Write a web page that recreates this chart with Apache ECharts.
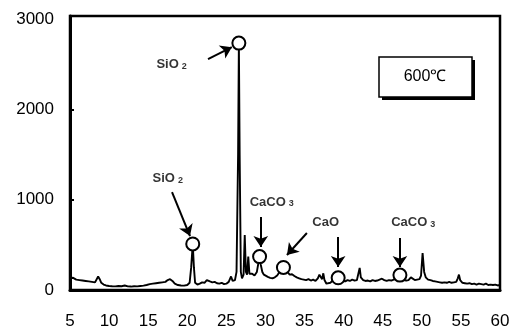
<!DOCTYPE html>
<html><head><meta charset="utf-8">
<script src="https://cdn.jsdelivr.net/npm/echarts@6/dist/echarts.min.js"></script>
<style>html,body{margin:0;padding:0;background:#fff}#c{width:514px;height:332px}</style>
</head><body><div id="c"></div>
<script>
// XRD pattern, 600 ℃ : [2θ, intensity]
const pattern = [
[5.0,130],[5.2,125],[5.4,135],[5.6,120],[5.8,115],[6.0,118],[6.2,110],[6.4,112],[6.6,105],[6.8,108],
[7.0,100],[7.2,98],[7.4,95],[7.6,92],[7.8,90],[8.0,88],[8.2,85],[8.4,95],[8.6,150],[8.7,160],[8.8,120],
[9.0,80],[9.3,60],[9.6,50],[10.0,45],[10.4,42],[10.8,40],[11.2,45],[11.6,42],[12.0,50],[12.4,40],
[12.8,38],[13.2,42],[13.6,40],[14.0,45],[14.4,48],[14.8,55],[15.2,65],[15.6,70],[16.0,75],[16.4,80],
[16.8,85],[17.2,90],[17.5,110],[17.8,120],[18.1,100],[18.4,70],[18.8,55],[19.2,50],[19.6,48],[20.0,55],
[20.3,80],[20.5,250],[20.7,510],[20.85,250],[21.0,80],[21.3,60],[21.6,70],[21.9,85],[22.2,80],[22.5,110],
[22.7,130],[22.9,95],[23.2,85],[23.5,90],[23.8,75],[24.1,70],[24.4,80],[24.7,65],[25.0,70],[25.3,90],
[25.6,150],[25.8,100],[26.1,110],[26.3,200],[26.5,1500],[26.6,2735],[26.7,1500],[26.85,200],[27.0,130],
[27.2,170],[27.35,610],[27.5,200],[27.65,170],[27.8,370],[27.95,180],[28.1,160],[28.3,180],[28.6,160],
[28.9,200],[29.1,300],[29.25,370],[29.4,280],[29.6,200],[29.8,170],[30.0,150],[30.3,145],[30.6,135],
[30.9,130],[31.2,140],[31.5,160],[31.8,200],[32.1,240],[32.3,250],[32.5,235],[32.8,200],[33.1,170],
[33.4,175],[33.7,155],[34.0,140],[34.3,130],[34.6,120],[34.9,115],[35.2,110],[35.5,120],[35.8,105],
[36.1,115],[36.4,100],[36.7,130],[36.9,170],[37.1,190],[37.25,120],[37.4,185],[37.55,110],[37.8,70],
[38.0,60],[38.3,80],[38.7,110],[39.0,125],[39.3,135],[39.6,120],[39.9,100],[40.2,95],[40.5,110],
[40.8,100],[41.1,115],[41.4,105],[41.7,110],[41.9,130],[42.05,245],[42.2,140],[42.5,110],[42.8,100],
[43.1,105],[43.4,95],[43.7,110],[44.0,100],[44.3,105],[44.6,115],[44.9,125],[45.2,110],[45.5,100],
[45.8,110],[46.1,105],[46.4,115],[46.7,130],[47.0,160],[47.2,165],[47.4,140],[47.7,110],[48.0,105],
[48.3,110],[48.6,140],[48.8,120],[49.1,110],[49.4,115],[49.7,120],[49.9,160],[50.1,410],[50.3,200],
[50.5,140],[50.8,115],[51.1,110],[51.4,100],[51.7,95],[52.0,90],[52.3,85],[52.6,80],[52.9,85],
[53.2,80],[53.5,90],[53.8,80],[54.1,85],[54.4,90],[54.6,130],[54.75,170],[54.9,110],[55.2,80],
[55.5,75],[55.8,70],[56.1,75],[56.4,65],[56.7,70],[57.0,60],[57.3,70],[57.6,65],[57.9,60],[58.2,70],
[58.5,55],[58.8,60],[59.1,55],[59.4,60],[59.7,50],[60.0,55]
];
// marked peaks (circles)
const markedPeaks = [[26.6,2735],[20.7,510],[29.25,370],[32.3,250],[39.3,135],[47.2,165]];
// arrows: [from2θ, fromI, to2θ, toI]
const arrows = [
[22.65,2558,25.7,2690],
[18.05,1085,20.35,598],
[29.4,809,29.4,476],
[35.3,631,32.75,388],
[39.3,587,39.3,255],
[47.2,576,47.2,255]
];
// labels: [2θ, I, name, subscript]
const labels = [
[18.0,2503,'SiO','2'],
[17.5,1240,'SiO','2'],
[30.8,975,'CaCO','3'],
[37.7,753,'CaO',''],
[48.9,753,'CaCO','3']
];
const xTicks = [5,10,15,20,25,30,35,40,45,50,55,60];
const yTicks = [0,1000,2000,3000];
const tempLabel = '600℃';

const chart = echarts.init(document.getElementById('c'));
chart.setOption({
  animation:false,
  backgroundColor:'#fff',
  grid:{left:70,right:14,top:16,bottom:42,show:true,borderColor:'#000',borderWidth:2.5},
  xAxis:{type:'value',min:5,max:60,interval:5,
    axisLine:{show:true,lineStyle:{color:'#000',width:3}},
    axisTick:{show:false},splitLine:{show:false},
    axisLabel:{color:'#000',fontSize:17,fontFamily:'Liberation Sans, Arial',margin:23,
      customValues:xTicks,formatter:v=>String(v)}},
  yAxis:{type:'value',min:0,max:3035,
    axisLine:{show:true,lineStyle:{color:'#000',width:3}},
    axisTick:{show:true,inside:true,length:4,lineStyle:{width:2,color:'#000'},customValues:[1000,2000]},
    splitLine:{show:false},
    axisLabel:{color:'#000',fontSize:17,fontFamily:'Liberation Sans, Arial',margin:16,
      customValues:yTicks,formatter:v=>String(v)}},
  series:[
    {type:'line',data:pattern,symbol:'none',lineStyle:{color:'#000',width:1.9},z:2,
     markLine:{silent:true,symbol:['none','arrow'],symbolSize:11,
       lineStyle:{color:'#000',width:2,type:'solid',opacity:1},label:{show:false},
       data:arrows.map(a=>[{coord:[a[0],a[1]]},{coord:[a[2],a[3]]}])}},
    {type:'scatter',data:markedPeaks,symbol:'circle',symbolSize:13,
     itemStyle:{color:'#fff',borderColor:'#000',borderWidth:2,opacity:1},z:5},
    {type:'scatter',data:labels.map(l=>[l[0],l[1]]),symbolSize:0,z:6,
     label:{show:true,position:'inside',
       formatter:p=>'{m|'+labels[p.dataIndex][2]+'}'+(labels[p.dataIndex][3]?'{s|'+labels[p.dataIndex][3]+'}':''),
       rich:{m:{fontSize:13,fontWeight:'bold',color:'#000',fontFamily:'Liberation Sans, Arial'},
             s:{fontSize:9,fontWeight:'bold',color:'#000',fontFamily:'Liberation Sans, Arial',verticalAlign:'bottom',padding:[0,0,0,3]}}}}
  ],
  graphic:[
    {type:'rect',shape:{x:382,y:60,width:93,height:40},style:{fill:'#000'},z:10},
    {type:'rect',shape:{x:379,y:57,width:93,height:40},style:{fill:'#fff',stroke:'#000',lineWidth:1.5},z:11},
    {type:'text',x:425,y:77,style:{text:tempLabel,fontSize:16,fill:'#000',fontFamily:'Liberation Sans, Arial',align:'center',verticalAlign:'middle'},z:12}
  ]
});
</script></body></html>
